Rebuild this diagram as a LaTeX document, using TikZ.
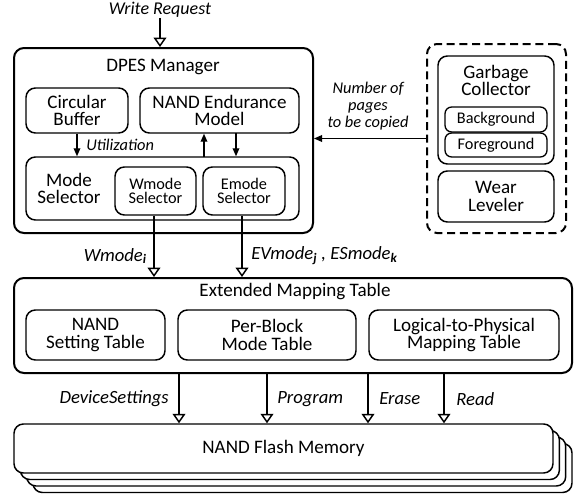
\documentclass[tikz,border=0pt]{standalone}
\usepackage{fontspec}
\setmainfont{Carlito}
\usetikzlibrary{arrows.meta,calc}
\tikzset{
  bigbox/.style={draw, line width=1.5pt, rounded corners=7.5pt, inner sep=0pt},
  inbox/.style={draw, line width=1.1pt, rounded corners=7pt, inner sep=0pt, align=center,
    font=\fontsize{14.3}{13}\selectfont},
  smbox/.style={draw, line width=1.1pt, rounded corners=7pt, inner sep=0pt, align=center,
    font=\fontsize{12.2}{10.8}\selectfont},
  tinybox/.style={draw, line width=1pt, rounded corners=5pt, inner sep=0pt, align=center,
    font=\fontsize{12.2}{11}\selectfont, fill=white},
  plain/.style={inner sep=0pt, align=center, font=\fontsize{14.3}{13}\selectfont},
  lbl/.style={inner sep=0pt, align=center, font=\itshape\fontsize{12.3}{13}\selectfont},
  blbl/.style={inner sep=0pt, align=center, font=\itshape\fontsize{14}{14}\selectfont},
  openarrow/.style={line width=1.5pt, -{Triangle[open, length=7pt, width=9.5pt, line width=1.1pt]}},
  fillarrow/.style={line width=0.9pt, -{Triangle[length=6pt, width=5pt]}},
}
\newcommand{\subb}[1]{\textsubscript{\bfseries\itshape #1}}
\begin{document}
\begin{tikzpicture}[x=0.75pt,y=-0.75pt]
\useasboundingbox (0,0) rectangle (575,496);

% DPES manager
\node[bigbox, minimum width=224.25pt, minimum height=138.75pt] (dpes) at (163.5,140.5) {};
\node[plain] (dpest) at (163,67) {DPES Manager};
\node[inbox, minimum width=76.5pt, minimum height=33.75pt] (cb) at (77,110.5) {Circular\\Buffer};
\node[inbox, minimum width=119.25pt, minimum height=33.75pt] (nem) at (219.5,110.5) {NAND Endurance\\Model};
\node[inbox, minimum width=204.75pt, minimum height=47.25pt] (ms) at (162.5,188.5) {};
\node[plain] (mst) at (69,188.5) {Mode\\Selector};
\node[smbox, minimum width=60.75pt, minimum height=36pt] (ws) at (155.5,191) {Wmode\\Selector};
\node[smbox, minimum width=61.5pt, minimum height=36pt] (es) at (244,191) {Emode\\Selector};

\draw[fillarrow] (cb.south) -- (cb.south |- ms.north);
\node[lbl, anchor=west] (util) at (86,145) {Utilization};
\coordinate (up) at (204,157);
\draw[fillarrow] (up) -- (up |- nem.south);
\coordinate (dn) at (236,133);
\draw[fillarrow] (dn) -- (dn |- ms.north);

% Write request
\node[lbl, font=\itshape\fontsize{13.5}{14}\selectfont] (wr) at (160,10) {Write Request};
\draw[openarrow] (wr.south) -- (wr.south |- dpes.north);

% GC / WL block
\node[draw, line width=1.5pt, dash pattern=on 6pt off 3.5pt, rounded corners=7.5pt,
  minimum width=104.25pt, minimum height=141.75pt] (db) at (496.5,138.5) {};
\node[inbox, minimum width=87pt, minimum height=81pt] (gc) at (496,110) {};
\node[plain] (gct) at (496,80.5) {Garbage\\Collector};
\node[tinybox, minimum width=76.5pt, minimum height=18.75pt] (bg) at (496,119.5) {Background};
\node[tinybox, minimum width=76.5pt, minimum height=18pt] (fg) at (496,145) {Foreground};
\node[inbox, minimum width=87pt, minimum height=38.25pt] (wl) at (496,196.5) {Wear\\Leveler};

\draw[fillarrow, line width=1pt] (db.west) -- (db.west -| dpes.east);
\node[lbl] (npc) at (368,106) {Number of\\pages\\to be copied};

% Extended mapping table
\node[bigbox, minimum width=418.5pt, minimum height=71.25pt] (emt) at (293,325.5) {};
\node[plain] (emtt) at (295,292) {Extended Mapping Table};
\node[inbox, minimum width=104.25pt, minimum height=37.5pt] (nst) at (95.5,335) {NAND\\Setting Table};
\node[inbox, minimum width=133.5pt, minimum height=37.5pt] (pbm) at (267,335) {Per-Block\\Mode Table};
\node[inbox, minimum width=142.5pt, minimum height=37.5pt] (ltp) at (464,335) {Logical-to-Physical\\Mapping Table};

\draw[openarrow] (ws.south -| 154,0) -- (emt.north -| 154,0);
\draw[openarrow] (es.south -| 242,0) -- (emt.north -| 242,0);
\node[blbl, anchor=east] (wml) at (147,256) {Wmode\subb{i}};
\node[blbl, anchor=west] (eml) at (251,256) {EVmode\subb{j} , ESmode\subb{k}};

% NAND flash memory stack
\node[inbox, fill=white, minimum width=404.25pt, minimum height=36.75pt] (nfm3) at (302.5,468) {};
\node[inbox, fill=white, minimum width=404.25pt, minimum height=36.75pt] (nfm2) at (296.2,461.5) {};
\node[inbox, fill=white, minimum width=404.25pt, minimum height=36.75pt] (nfm1) at (289.9,455) {};
\node[inbox, fill=white, minimum width=404.25pt, minimum height=36.75pt] (nfm) at (283.5,448.5) {NAND Flash Memory};

\draw[openarrow] (emt.south -| 179,0) -- (nfm.north -| 179,0);
\draw[openarrow] (emt.south -| 267,0) -- (nfm.north -| 267,0);
\draw[openarrow] (emt.south -| 368,0) -- (nfm.north -| 368,0);
\draw[openarrow] (emt.south -| 444,0) -- (nfm.north -| 444,0);
\node[blbl, anchor=east] (dsl) at (169,399) {DeviceSettings};
\node[blbl, anchor=west] (prl) at (277,399) {Program};
\node[blbl, anchor=west] (erl) at (379,399) {Erase};
\node[blbl, anchor=west] (rdl) at (456,399) {Read};
\end{tikzpicture}
\end{document}
